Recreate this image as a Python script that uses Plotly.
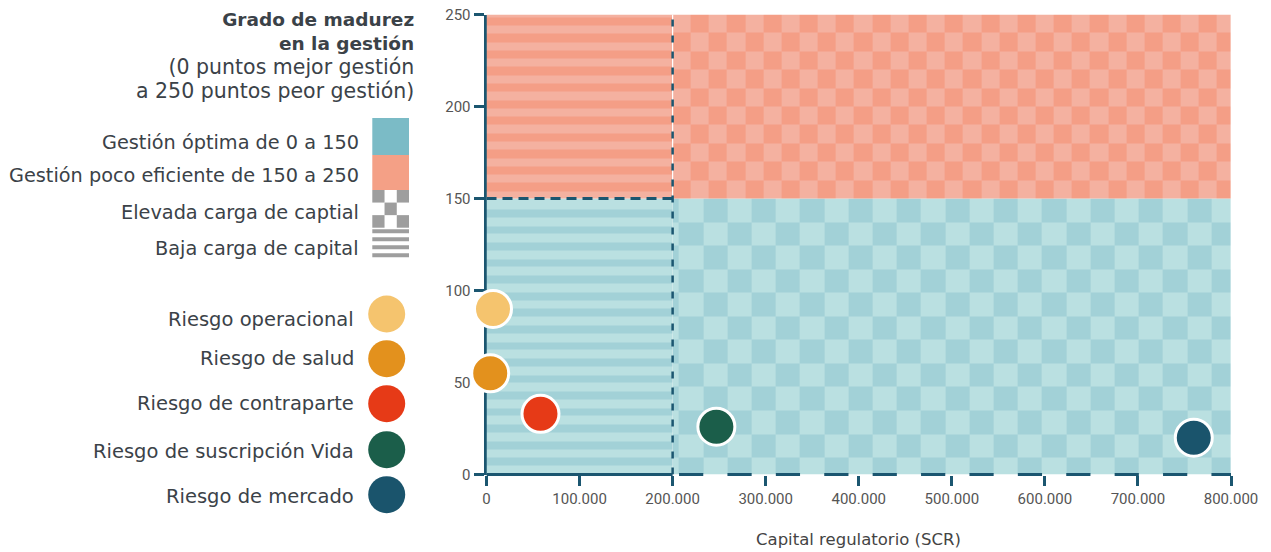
import plotly.graph_objects as go

W, H = 1271, 552

# ---------------- data ----------------
riesgos = ["Riesgo operacional", "Riesgo de salud", "Riesgo de contraparte",
           "Riesgo de suscripción Vida", "Riesgo de mercado"]
capital_scr = [7000, 4000, 58000, 247000, 760000]
madurez = [90, 55, 33, 26, 20]
colores_riesgo = ["#F5C46E", "#E3911D", "#E63A17", "#1B5E4A", "#1A546C"]

x_ticks = [0, 100000, 200000, 300000, 400000, 500000, 600000, 700000, 800000]
y_ticks = [0, 50, 100, 150, 200, 250]
umbral_capital = 200000
umbral_gestion = 150
x_max = 800000
y_max = 250

titulo_lineas = ["Grado de madurez", "en la gestión",
                 "(0 puntos mejor gestión", "a 250 puntos peor gestión)"]
zonas = ["Gestión óptima de 0 a 150", "Gestión poco eficiente de 150 a 250",
         "Elevada carga de captial", "Baja carga de capital"]
eje_x_titulo = "Capital regulatorio (SCR)"

# ---------------- styles ----------------
TEAL_L, TEAL_D = "#BAE0E1", "#A2D1D7"
SAL_L, SAL_D = "#F4B1A0", "#F49E86"
NAVY = "#1B5670"
LEG_TEAL, LEG_SAL, GREY = "#7BBBC6", "#F4A086", "#9E9E9E"
TXT = "#3B4248"
FONT = "DejaVu Sans"
TICKFONT = "Roboto"

# plot area in pixels
PL, PR, PT, PB = 486.5, 1231, 14.5, 474.5
x_dom = [PL / W, PR / W]
y_dom = [(H - PB) / H, (H - PT) / H]


def heat(xe, ye, z, light, dark):
    return go.Heatmap(x=xe, y=ye, z=z, colorscale=[[0, light], [1, dark]],
                      zmin=0, zmax=1, showscale=False, hoverinfo="skip",
                      xaxis="x", yaxis="y")


def checker(xe, ye, parity):
    nr, nc = len(ye) - 1, len(xe) - 1
    return [[1 if ((nr - 1 - i) + c) % 2 == parity else 0 for c in range(nc)]
            for i in range(nr)]


fig = go.Figure()

# teal checker (bottom right)
tx = [umbral_capital] + [206900 + 26000 * k for k in range(23)] + [x_max]
ty = [0] + [round(umbral_gestion - 12.8 * k, 2) for k in range(11, 0, -1)] + [umbral_gestion]
fig.add_trace(heat(tx, ty, checker(tx, ty, 0), TEAL_L, TEAL_D))

# salmon checker (top right)
sx = [umbral_capital + 19500 * k for k in range(31)] + [x_max]
sy = [umbral_gestion + 10 * k for k in range(11)]
fig.add_trace(heat(sx, sy, checker(sx, sy, 1), SAL_L, SAL_D))

# teal stripes (bottom left)
ey = [0]
for k in range(16):
    ey += [4.8 + 9 * k, 9 + 9 * k]
ey.append(umbral_gestion)
fig.add_trace(heat([0, umbral_capital], ey, [[i % 2] for i in range(len(ey) - 1)],
                   TEAL_L, TEAL_D))

# salmon stripes (top left)
ed = [y_max, 248.5]
e = 248.5
while e - 4.5 > umbral_gestion + 0.5:
    e -= 4.5
    ed.append(round(e, 2))
ed.append(umbral_gestion)
ed = ed[::-1]
nb = len(ed) - 1
fig.add_trace(heat([0, umbral_capital], ed,
                   [[1 if (nb - 1 - i) % 2 == 1 else 0] for i in range(nb)],
                   SAL_L, SAL_D))

# points
fig.add_trace(go.Scatter(
    x=capital_scr, y=madurez, mode="markers", text=riesgos,
    marker=dict(size=37, color=colores_riesgo, line=dict(color="white", width=3)),
    cliponaxis=False, hovertemplate="%{text}<extra></extra>",
    xaxis="x", yaxis="y", showlegend=False))

# ---------- legend (auxiliary pixel axes) ----------
circ_y = [314, 358.7, 403.7, 449.7, 494.7]
lab_y = [319, 358.5, 403.5, 451.5, 496.5]
fig.add_trace(go.Scatter(
    x=[386.7] * len(riesgos), y=circ_y, mode="markers",
    marker=dict(size=37, color=colores_riesgo), hoverinfo="skip",
    xaxis="x2", yaxis="y2", showlegend=False))

annotations = []
titulo_txt = "<br>".join(
    [f"<b>{t}</b>" for t in titulo_lineas[:2]] +
    [f"<span style='font-size:20.5px'>{t}</span>" for t in titulo_lineas[2:]])
annotations.append(dict(
    x=415.5, y=55.5, xref="x2", yref="y2", xanchor="right", yanchor="middle",
    align="right", text=titulo_txt, showarrow=False,
    font=dict(family=FONT, size=18.5, color=TXT)))
zona_y = [142.7, 175, 212.7, 248.3]
for t, yy in zip(zonas, zona_y):
    annotations.append(dict(
        x=361, y=yy, xref="x2", yref="y2", xanchor="right", yanchor="middle",
        text=t, showarrow=False, font=dict(family=FONT, size=19.3, color=TXT)))
for t, yy in zip(riesgos, lab_y):
    annotations.append(dict(
        x=356, y=yy, xref="x2", yref="y2", xanchor="right", yanchor="middle",
        text=t, showarrow=False, font=dict(family=FONT, size=19.5, color=TXT)))
annotations.append(dict(
    x=(PL + PR) / 2 / W, y=(H - 539) / H, xref="paper", yref="paper",
    xanchor="center", yanchor="middle", text=eje_x_titulo, showarrow=False,
    font=dict(family=FONT, size=16.5, color="#444")))

shapes = []
# legend swatches
shapes.append(dict(type="rect", xref="x2", yref="y2", x0=372.3, x1=409, y0=118, y1=155,
                   fillcolor=LEG_TEAL, line=dict(width=0)))
shapes.append(dict(type="rect", xref="x2", yref="y2", x0=372.3, x1=409, y0=155, y1=190,
                   fillcolor=LEG_SAL, line=dict(width=0)))
cw = (409 - 372.3) / 3
ch = (227.7 - 190) / 3
for r in range(3):
    for c in range(3):
        if (r + c) % 2 == 0:
            shapes.append(dict(type="rect", xref="x2", yref="y2",
                               x0=372.3 + c * cw, x1=372.3 + (c + 1) * cw,
                               y0=190 + r * ch, y1=190 + (r + 1) * ch,
                               fillcolor=GREY, line=dict(width=0)))
for k in range(4):
    shapes.append(dict(type="rect", xref="x2", yref="y2", x0=372.3, x1=409,
                       y0=229.3 + 8 * k, y1=233.3 + 8 * k,
                       fillcolor=GREY, line=dict(width=0)))

# threshold lines
shapes.append(dict(type="line", xref="x", yref="y", x0=umbral_capital, x1=umbral_capital,
                   y0=umbral_gestion, y1=y_max, line=dict(color="white", width=1.2)))
shapes.append(dict(type="line", xref="x", yref="y", x0=umbral_capital, x1=umbral_capital,
                   y0=0, y1=y_max, line=dict(color=NAVY, width=2.5, dash="7px,9px")))
shapes.append(dict(type="line", xref="x", yref="y", x0=0, x1=umbral_capital,
                   y0=umbral_gestion, y1=umbral_gestion,
                   line=dict(color=NAVY, width=3, dash="10px,6px")))
# x axis line: solid under stripes, broken under checker
ybase = (H - PB) / H
shapes.append(dict(type="line", xref="x", yref="paper", x0=0, x1=umbral_capital,
                   y0=ybase, y1=ybase, line=dict(color=NAVY, width=3)))
shapes.append(dict(type="line", xref="x", yref="paper", x0=206900, x1=x_max,
                   y0=ybase, y1=ybase, line=dict(color=NAVY, width=3, dash="24.2px,24.2px")))

fig.update_layout(
    width=W, height=H, margin=dict(l=0, r=0, t=0, b=0, pad=0, autoexpand=False),
    paper_bgcolor="white", plot_bgcolor="white",
    separators=",.", showlegend=False,
    annotations=annotations, shapes=shapes,
    xaxis=dict(domain=x_dom, range=[0, x_max], tickvals=x_ticks, tickformat=",d",
               showgrid=False, zeroline=False, showline=False,
               ticks="outside", ticklen=10, tickwidth=3, tickcolor=NAVY,
               tickfont=dict(family=TICKFONT, size=15, color="#555"),
               anchor="y", fixedrange=True, automargin=False),
    yaxis=dict(domain=y_dom, range=[0, y_max], tickvals=y_ticks,
               showgrid=False, zeroline=False, showline=True, linecolor=NAVY, linewidth=3,
               ticks="outside", ticklen=10, tickwidth=3, tickcolor=NAVY,
               tickfont=dict(family=TICKFONT, size=15, color="#555"),
               anchor="x", layer="below traces", fixedrange=True, automargin=False),
    xaxis2=dict(domain=[0, 440 / W], range=[0, 440], visible=False, anchor="y2",
                fixedrange=True, automargin=False),
    yaxis2=dict(domain=[0, 1], range=[H, 0], visible=False, anchor="x2",
                fixedrange=True, automargin=False),
)

fig.write_html(
    "out.html",
    config={"displayModeBar": False},
    post_script="document.body.style.margin='0';document.body.style.padding='0';"
                "document.documentElement.style.overflow='hidden';",
)
